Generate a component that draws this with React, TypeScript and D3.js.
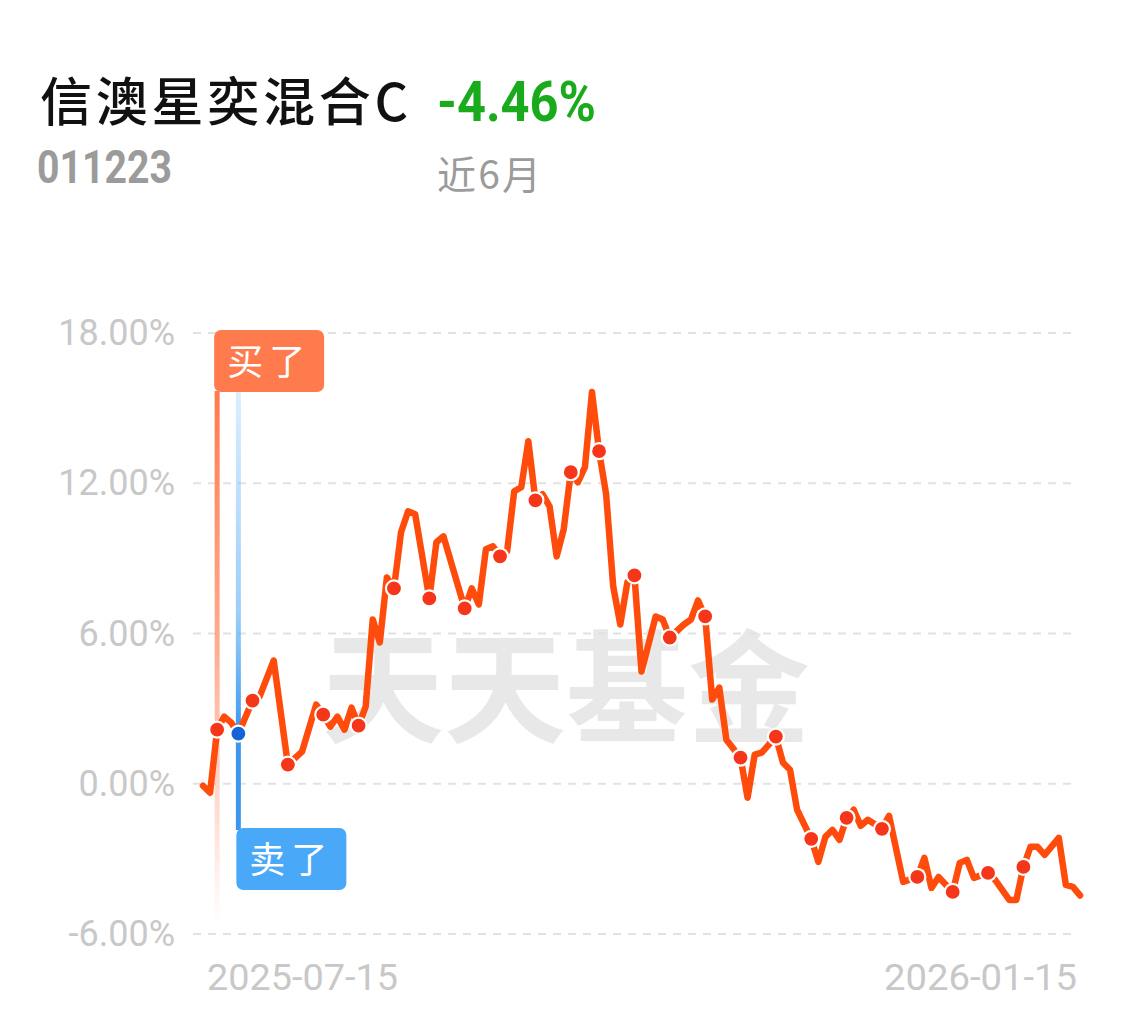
import React from 'react';
import * as d3 from 'd3';

// ---- data ----
const fundName = '信澳星奕混合C';
const fundCode = '011223';
const periodReturn = '-4.46%';
const periodLabel = '近6月';
const watermark = '天天基金';

const dayIndex = [0, 1, 2, 3, 4, 5, 7, 8, 10, 12, 14, 16, 17, 18, 19, 20, 21, 22, 23, 24, 25, 26, 27, 28, 29, 30, 32, 33, 34, 37, 38, 39, 40, 41, 42, 43, 44, 45, 46, 47, 48, 49, 50, 51, 52, 53, 54, 55, 56, 57, 58, 59, 60, 61, 62, 64, 65, 66, 68, 69, 70, 71, 72, 73, 74, 76, 77, 78, 79, 81, 82, 83, 84, 86, 87, 88, 89, 90, 91, 92, 93, 94, 96, 97, 99, 101, 102, 103, 104, 106, 107, 108, 109, 111, 112, 114, 115, 116, 117, 118, 119, 121, 122, 123, 124];
const returns = [-0.08, -0.36, 2.16, 2.68, 2.44, 2.0, 3.32, 3.48, 4.92, 0.76, 1.28, 3.16, 2.76, 2.28, 2.68, 2.16, 3.04, 2.32, 3.08, 6.56, 5.64, 8.24, 7.8, 10.04, 10.88, 10.76, 7.4, 9.64, 9.88, 7.0, 7.8, 7.16, 9.36, 9.48, 9.08, 9.28, 11.68, 11.84, 13.68, 11.32, 11.56, 11.08, 9.08, 10.16, 12.44, 12.04, 12.64, 15.64, 13.28, 11.56, 7.88, 6.36, 8.04, 8.32, 4.48, 6.68, 6.56, 5.84, 6.36, 6.56, 7.32, 6.68, 3.36, 3.84, 1.76, 1.04, -0.56, 1.16, 1.24, 1.88, 0.84, 0.56, -1.04, -2.2, -3.12, -2.12, -1.84, -2.24, -1.36, -1.04, -1.68, -1.44, -1.8, -1.28, -3.92, -3.72, -2.96, -4.16, -3.72, -4.32, -3.16, -3.04, -3.76, -3.56, -3.84, -4.64, -4.64, -3.32, -2.52, -2.52, -2.84, -2.16, -4.04, -4.12, -4.46];
const markedDays = [2, 7, 12, 17, 22, 27, 32, 37, 42, 47, 52, 56, 61, 66, 71, 76, 81, 86, 91, 96, 101, 106, 111, 116];
const buyDay = 2;
const sellDay = 5;
const buyLabel = '买了';
const sellLabel = '卖了';

const yTicks = [18, 12, 6, 0, -6];
const xTickLabels = ['2025-07-15', '2026-01-15'];

const W = 1135;
const H = 1022;

export default function App() {
  const x = d3.scaleLinear().domain([0, 124]).range([203, 1080]);
  const y = d3.scaleLinear().domain([-6, 18]).range([934, 333]);
  const pts = dayIndex.map((d, i) => ({ d, v: returns[i] }));
  const line = d3.line<{ d: number; v: number }>().x((p) => x(p.d)).y((p) => y(p.v));
  const valAt = (d: number) => pts.find((p) => p.d === d)!.v;

  const gridX1 = 193;
  const gridX2 = 1077;
  const bx = x(buyDay);
  const sx = x(sellDay);

  return (
    <svg width={W} height={H} style={{ position: 'absolute', left: 0, top: 0, background: '#fff' }}>
      <defs>
        <linearGradient id="buyGrad" x1="0" y1="0" x2="0" y2="1">
          <stop offset="0" stopColor="#ff7a4d" stopOpacity="1" />
          <stop offset="0.5" stopColor="#ff7a4d" stopOpacity="0.6" />
          <stop offset="1" stopColor="#ff7a4d" stopOpacity="0" />
        </linearGradient>
        <linearGradient id="sellGrad" x1="0" y1="0" x2="0" y2="1">
          <stop offset="0" stopColor="#4aa6f6" stopOpacity="0.12" />
          <stop offset="0.55" stopColor="#4aa6f6" stopOpacity="0.55" />
          <stop offset="0.8" stopColor="#3b97ee" stopOpacity="1" />
          <stop offset="1" stopColor="#3b97ee" stopOpacity="1" />
        </linearGradient>
      </defs>

      {/* header */}
      <text x={40} y={121} fontFamily="'Noto Sans CJK SC'" fontWeight={500} fontSize={52} fill="#111" textLength={368} lengthAdjust="spacing">
        {fundName}
      </text>
      <text x={437} y={121} fontFamily="Roboto" fontWeight={700} fontSize={56} fill="#1aab1c" textLength={159} lengthAdjust="spacingAndGlyphs">
        {periodReturn}
      </text>
      <text x={37} y={183} fontFamily="Roboto" fontWeight={700} fontSize={46} fill="#9b9b9b" textLength={135} lengthAdjust="spacingAndGlyphs">
        {fundCode}
      </text>
      <text x={437} y={189} fontFamily="'Noto Sans CJK SC'" fontSize={39} fill="#9b9b9b" textLength={104} lengthAdjust="spacing">
        {periodLabel}
      </text>

      {/* watermark */}
      <text x={566} y={733} textAnchor="middle" fontFamily="'Noto Sans CJK SC'" fontWeight={700} fontSize={122} fill="#e8e8e8">
        {watermark}
      </text>

      {/* grid */}
      {yTicks.map((t) => (
        <g key={t}>
          <line x1={gridX1} x2={gridX2} y1={y(t)} y2={y(t)} stroke="#e2e2e2" strokeWidth={2} strokeDasharray="8 7" />
          <text x={175} y={y(t) + 12} textAnchor="end" fontFamily="Roboto" fontSize={36} fill="#c8c8c8">
            {t.toFixed(2)}%
          </text>
        </g>
      ))}
      <text x={207} y={990} fontFamily="Roboto" fontSize={37} fill="#c8c8c8" textLength={191} lengthAdjust="spacingAndGlyphs">{xTickLabels[0]}</text>
      <text x={884} y={990} fontFamily="Roboto" fontSize={37} fill="#c8c8c8" textLength={193} lengthAdjust="spacingAndGlyphs">{xTickLabels[1]}</text>

      {/* buy / sell lines */}
      <rect x={bx - 2.5} y={391} width={5} height={534} fill="url(#buyGrad)" />
      <rect x={sx - 2.5} y={345} width={5} height={485} fill="url(#sellGrad)" />

      {/* series */}
      <path d={line(pts) || ''} fill="none" stroke="#ff4c0c" strokeWidth={6.5} strokeLinejoin="round" strokeLinecap="round" />
      {markedDays.map((d) => (
        <circle key={d} cx={x(d)} cy={y(valAt(d))} r={8} fill="#f5361b" stroke="#fff" strokeWidth={2.2} />
      ))}
      <circle cx={sx} cy={y(valAt(sellDay))} r={8} fill="#1663d6" stroke="#fff" strokeWidth={2.2} />

      {/* labels */}
      <rect x={bx - 3} y={330} width={110} height={62} rx={7} fill="#ff7a4d" />
      <text x={bx + 52} y={375} textAnchor="middle" fontFamily="'Noto Sans CJK SC'" fontSize={36} fill="#fff" letterSpacing={6}>
        {buyLabel}
      </text>
      <rect x={sx - 2} y={828} width={110} height={62} rx={7} fill="#4aa8f8" />
      <text x={sx + 53} y={873} textAnchor="middle" fontFamily="'Noto Sans CJK SC'" fontSize={36} fill="#fff" letterSpacing={6}>
        {sellLabel}
      </text>
    </svg>
  );
}
